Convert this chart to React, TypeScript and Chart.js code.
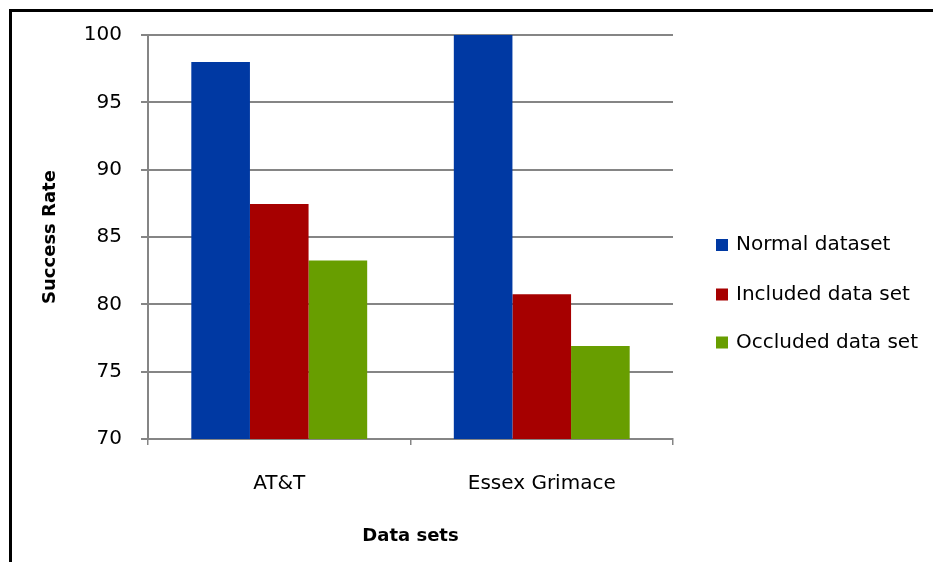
import React, { useEffect, useRef } from "react";
import { Chart, registerables } from "chart.js";

Chart.register(...registerables);

const categories = ["AT&T", "Essex Grimace"];
const seriesNames = ["Normal dataset", "Included data set", "Occluded data set"];
const normalValues = [98.0, 100.0];
const includedValues = [87.45, 80.75];
const occludedValues = [83.25, 76.9];
const seriesColors = ["#0039A3", "#A60000", "#689E00"];
const yTicks = { min: 70, max: 100, step: 5 };
const xTitle = "Data sets";
const yTitle = "Success Rate";

const FONT = "'DejaVu Sans', sans-serif";

export default function App() {
  const ref = useRef<HTMLCanvasElement | null>(null);

  useEffect(() => {
    const canvas = ref.current;
    if (!canvas) return;

    const framePlugin = {
      id: "frame",
      beforeDraw(chart: any) {
        const ctx = chart.ctx;
        ctx.save();
        ctx.fillStyle = "#ffffff";
        ctx.fillRect(0, 0, chart.width, chart.height);
        ctx.fillStyle = "#000000";
        ctx.fillRect(9, 9, chart.width - 9, 3);
        ctx.fillRect(9, 9, 3, chart.height - 9);
        ctx.restore();
      },
    };

    const legendPlugin = {
      id: "customLegend",
      afterDraw(chart: any) {
        const ctx = chart.ctx;
        ctx.save();
        const ys = [245, 294.5, 342.5];
        chart.data.datasets.forEach((ds: any, i: number) => {
          const y = ys[i];
          ctx.fillStyle = ds.backgroundColor;
          ctx.fillRect(716, y - 6, 12, 12);
          ctx.fillStyle = "#000000";
          ctx.font = "20px " + FONT;
          ctx.textBaseline = "middle";
          ctx.textAlign = "left";
          ctx.fillText(ds.label, 736, y);
        });
        ctx.restore();
      },
    };

    const chart = new Chart(canvas, {
      type: "bar",
      data: {
        labels: categories,
        datasets: [
          { label: seriesNames[0], data: normalValues, backgroundColor: seriesColors[0] },
          { label: seriesNames[1], data: includedValues, backgroundColor: seriesColors[1] },
          { label: seriesNames[2], data: occludedValues, backgroundColor: seriesColors[2] },
        ],
      },
      options: {
        responsive: false,
        animation: false,
        layout: { padding: { left: 12, top: 35, right: 260, bottom: 0 } },
        datasets: {
          bar: { categoryPercentage: 0.67, barPercentage: 1.0, borderWidth: 0 },
        },
        plugins: {
          legend: { display: false },
          tooltip: { enabled: false },
          title: { display: false },
        },
        scales: {
          x: {
            offset: true,
            grid: {
              display: true,
              offset: true,
              drawOnChartArea: false,
              drawTicks: true,
              tickLength: 6,
              color: "#858585",
              lineWidth: 1.5,
            },
            border: { display: true, color: "#858585", width: 2 },
            ticks: {
              color: "#000000",
              font: { family: FONT, size: 20 },
              padding: 27,
              maxRotation: 0,
            },
            title: {
              display: true,
              text: xTitle,
              color: "#000000",
              font: { family: FONT, size: 18, weight: "bold" },
              padding: { top: 0, bottom: 15 },
            },
            afterFit(scale: any) {
              scale.height = 123;
            },
          },
          y: {
            min: yTicks.min,
            max: yTicks.max,
            ticks: {
              stepSize: yTicks.step,
              color: "#000000",
              font: { family: FONT, size: 20 },
              padding: 19,
            },
            grid: {
              color: "#858585",
              lineWidth: 2,
              drawTicks: true,
              tickLength: 7,
            },
            border: { display: true, color: "#858585", width: 2 },
            title: {
              display: true,
              text: yTitle,
              color: "#000000",
              font: { family: FONT, size: 18, weight: "bold" },
              padding: { top: 28, bottom: 0 },
            },
            afterFit(scale: any) {
              scale.width = 136;
            },
          },
        },
      },
      plugins: [framePlugin, legendPlugin],
    } as any);

    return () => chart.destroy();
  }, []);

  return (
    <div style={{ position: "fixed", left: 0, top: 0, width: 933, height: 562 }}>
      <canvas ref={ref} width={933} height={562} style={{ display: "block", width: 933, height: 562 }} />
    </div>
  );
}
